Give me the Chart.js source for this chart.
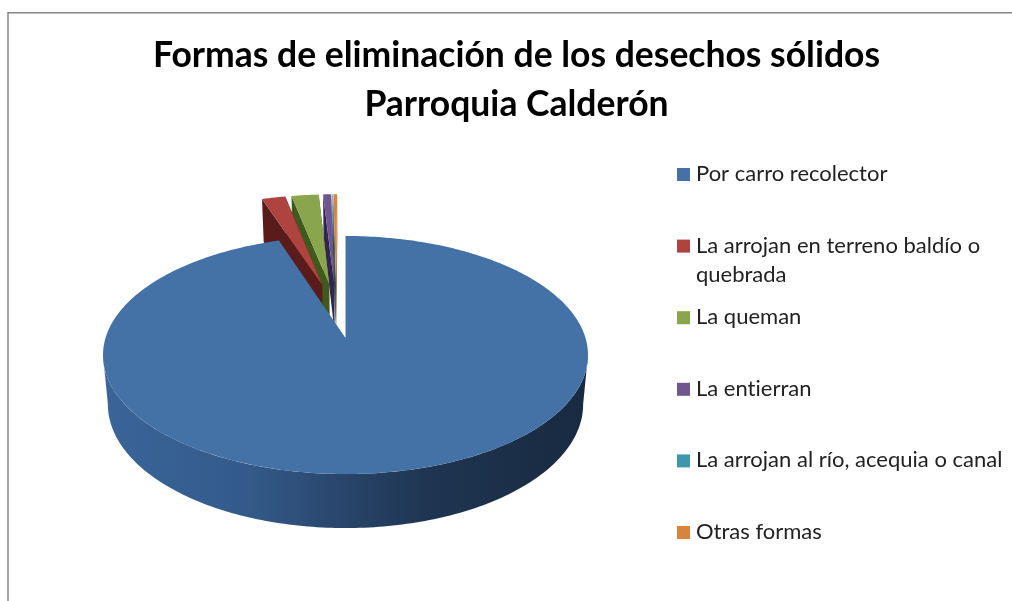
<!DOCTYPE html>
<html lang="es">
<head>
<meta charset="utf-8">
<title>Formas de eliminación de los desechos sólidos</title>
<script src="https://cdn.jsdelivr.net/npm/chart.js@4"></script>
<style>
  html, body { margin: 0; padding: 0; background: #fff; }
  canvas { display: block; }
</style>
</head>
<body>
<canvas id="chart" width="1012" height="601"></canvas>
<script>
// Chart text and values
const titleLines = ['Formas de eliminación de los desechos sólidos', 'Parroquia Calderón'];
const categories = [
  'Por carro recolector',
  'La arrojan en terreno baldío o quebrada',
  'La queman',
  'La entierran',
  'La arrojan al río, acequia o canal',
  'Otras formas'
];
const shares = [94.9, 1.9, 2.2, 0.65, 0.05, 0.3];
const sliceColors = ['#4471A6', '#AE4340', '#8AA64D', '#6F5690', '#3F96AD', '#D9843C'];
const sideColors = ['#2A4A73', '#5A1C1A', '#3F5A1C', '#33254F', '#1F5565', '#8A5018'];
const legendWrap = { 1: ['La arrojan en terreno baldío o', 'quebrada'] };

// Perspective view of the tilted disc, centred on the large slice's point
const view = { x: 345.5, y: 338, rx: 240, ry: 116.6, k: 0.143, depth: 48.6, floor: 0.98 };
const explode = 0.25;
const degree = Math.PI / 180;

function project(u, v, low) {
  const w = 1 - view.k * v;
  const s = low ? view.floor : 1;
  return {
    x: view.x + view.rx * u * s / w,
    y: view.y + view.ry * v * s / w + (low ? view.depth / w : 0)
  };
}

function midAngle(arc) {
  return (arc.startAngle + arc.endAngle) / 2 + Math.PI / 2;
}

// Every slice moves out along its own bisector; positions are taken relative to the first
function sliceFrame(arc, first) {
  const mid = midAngle(arc);
  const ref = midAngle(first);
  return {
    start: arc.startAngle + Math.PI / 2,
    end: arc.endAngle + Math.PI / 2,
    ox: (Math.sin(mid) - Math.sin(ref)) * explode,
    oy: (Math.cos(ref) - Math.cos(mid)) * explode
  };
}

function rim(f, theta, low) {
  return project(f.ox + Math.sin(theta), f.oy - Math.cos(theta), low);
}

function tracePath(ctx, pts) {
  ctx.beginPath();
  pts.forEach((p, i) => (i ? ctx.lineTo(p.x, p.y) : ctx.moveTo(p.x, p.y)));
  ctx.closePath();
}

function arcPoints(f, from, to, low) {
  const pts = [];
  const n = Math.max(2, Math.ceil((to - from) / degree));
  for (let i = 0; i <= n; i++) pts.push(rim(f, from + (to - from) * i / n, low));
  return pts;
}

// Front wall gradient of the large slice
function wallGradient(ctx) {
  const g = ctx.createLinearGradient(104, 0, 589, 0);
  g.addColorStop(0, '#3A659A');
  g.addColorStop(0.3, '#335A89');
  g.addColorStop(0.5, '#284469');
  g.addColorStop(0.68, '#1E3450');
  g.addColorStop(1, '#182A40');
  return g;
}

function drawSlice(ctx, arc, index, first) {
  const f = sliceFrame(arc, first);
  const apexTop = project(f.ox, f.oy, false);
  const apexLow = project(f.ox, f.oy, true);

  if (index > 0) {
    // Cut faces of the separated slices
    [f.start, f.end].forEach(theta => {
      tracePath(ctx, [apexTop, rim(f, theta, false), rim(f, theta, true), apexLow]);
      ctx.fillStyle = sideColors[index];
      ctx.fill();
    });
  } else {
    // Curved outer wall, between the two widest points of the outline
    const side = Math.acos(-view.k);
    const from = Math.max(f.start, side);
    const to = Math.min(f.end, 2 * Math.PI - side);
    const top = arcPoints(f, from, to, false);
    const low = arcPoints(f, from, to, true).reverse();
    tracePath(ctx, top.concat(low));
    ctx.fillStyle = wallGradient(ctx);
    ctx.fill();
  }

  // Upper face
  tracePath(ctx, [apexTop].concat(arcPoints(f, f.start, f.end, false)));
  ctx.fillStyle = arc.options.backgroundColor;
  ctx.fill();
}

const perspectivePie = {
  id: 'perspectivePie',
  beforeDatasetsDraw(chart) {
    const ctx = chart.ctx;
    const arcs = chart.getDatasetMeta(0).data;
    ctx.save();
    // Back slices first, the large slice last
    for (let i = arcs.length - 1; i >= 0; i--) drawSlice(ctx, arcs[i], i, arcs[0]);
    ctx.restore();
    return false;
  }
};

const sideLegend = {
  id: 'sideLegend',
  afterDraw(chart) {
    const ctx = chart.ctx;
    const meta = chart.getDatasetMeta(0).data;
    ctx.save();
    ctx.font = '400 22px Lato';
    ctx.textRendering = 'optimizeSpeed';
    ctx.textBaseline = 'middle';
    categories.forEach((label, i) => {
      const y = 174 + 71.6 * i;
      ctx.fillStyle = meta[i].options.backgroundColor;
      ctx.fillRect(677, y - 6, 13, 13);
      ctx.fillStyle = '#222';
      (legendWrap[i] || [label]).forEach((line, j) => ctx.fillText(line, 696, y + j * 29));
    });
    ctx.restore();
  }
};

const frame = {
  id: 'frame',
  beforeDraw(chart) {
    const ctx = chart.ctx;
    ctx.save();
    ctx.fillStyle = '#fff';
    ctx.fillRect(0, 0, chart.width, chart.height);
    ctx.strokeStyle = '#868686';
    ctx.lineWidth = 1.5;
    ctx.beginPath();
    ctx.moveTo(8, chart.height);
    ctx.lineTo(8, 12.7);
    ctx.lineTo(chart.width, 12.7);
    ctx.stroke();
    ctx.restore();
  }
};

new Chart(document.getElementById('chart'), {
  type: 'pie',
  data: {
    labels: categories,
    datasets: [{ data: shares, backgroundColor: sliceColors, borderWidth: 0 }]
  },
  options: {
    responsive: false,
    animation: false,
    layout: { padding: { left: 21, top: 31 } },
    plugins: {
      legend: { display: false },
      tooltip: { enabled: false },
      title: {
        display: true,
        text: titleLines,
        color: '#000',
        font: { family: 'Lato', size: 35.5, weight: '700', lineHeight: 1.38 },
        padding: 0
      }
    }
  },
  plugins: [frame, perspectivePie, sideLegend]
});
</script>
</body>
</html>
